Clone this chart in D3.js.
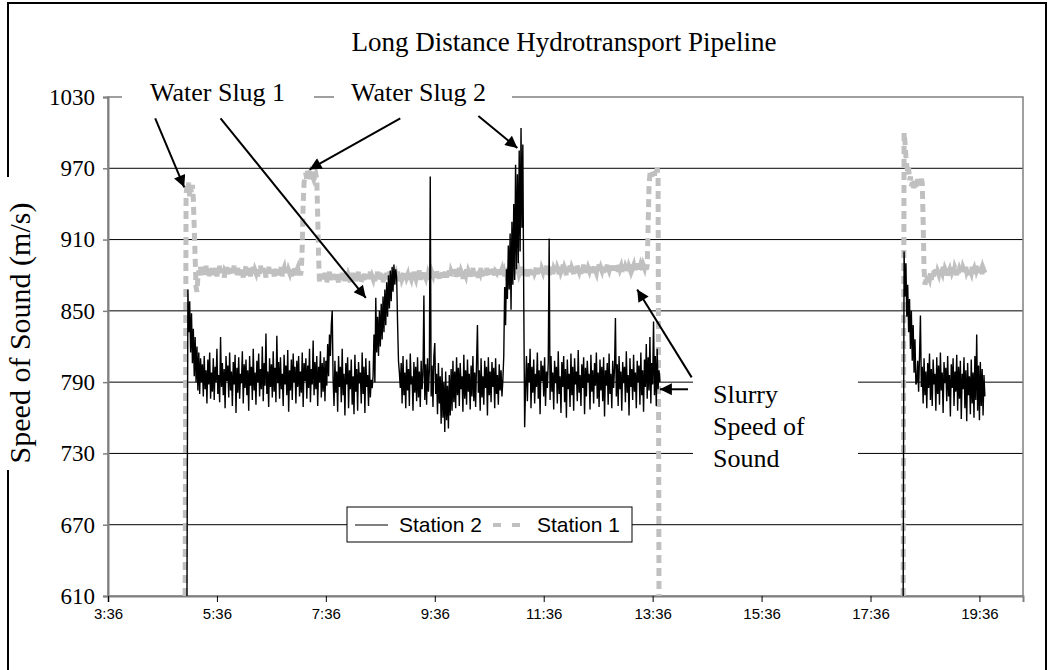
<!DOCTYPE html>
<html><head><meta charset="utf-8">
<script src="https://cdn.jsdelivr.net/npm/d3@7"></script>
<style>body{margin:0;background:#fff}svg{display:block}</style>
</head><body>
<svg id="chart" width="1049" height="670"></svg>
<script>
// ---------- data ----------
const chartTitle = "Long Distance Hydrotransport Pipeline";
const yAxisTitle = "Speed of Sound (m/s)";
const yTickValues = [610, 670, 730, 790, 850, 910, 970, 1030];
const xTickLabels = ["3:36", "5:36", "7:36", "9:36", "11:36", "13:36", "15:36", "17:36", "19:36"];
const xDomainLabels = ["3:36", "20:24"];
const seriesNames = ["Station 2", "Station 1"];

// Station 2 (black) sampled every minute
const station2Step = 1;
const station2StartA = "5:03";
const station2A = [
610, 868, 832, 858, 815, 848, 806, 835, 795, 828, 790, 820, 783, 815, 780, 810,
790, 805, 778, 812, 784, 800, 772, 809, 788, 815, 776, 798, 782, 810, 775, 803, 790, 818, 780, 796,
773, 828, 786, 806, 779, 801, 768, 812, 791, 804, 777, 815, 783, 799, 770, 807, 788, 813, 764, 802,
781, 811, 776, 797, 789, 816, 772, 805, 785, 809, 779, 800, 766, 812, 787, 803, 775, 818, 783, 798,
771, 808, 790, 814, 778, 801, 784, 820, 774, 806, 787, 831, 780, 799, 769, 810, 786, 805, 777, 816,
782, 802, 773, 829, 789, 807, 776, 811, 784, 797, 770, 813, 788, 804, 779, 817, 765, 800, 783, 809,
775, 814, 790, 803, 772, 808, 786, 812, 778, 799, 781, 815, 769, 806, 791, 810, 776, 804, 785, 818,
773, 801, 788, 825, 779, 807, 784, 812, 770, 803, 790, 816, 777, 806, 782, 811, 774, 808, 787, 822, 795, 830,
812, 838, 850,
792, 770, 808, 781, 799, 765, 812, 786, 803, 773, 818, 779, 797, 762, 806, 788, 811, 768, 800, 784,
809, 771, 795, 763, 813, 782, 801, 766, 807, 789, 798, 772, 815, 780, 803, 764, 810, 786, 796, 770, 808, 777, 792, 785,
795, 830, 790, 861, 815, 845, 812, 850, 820, 856, 826, 862, 832, 868, 838, 874, 845, 880, 852, 884, 858, 887, 866, 889, 872,
885, 878, 840, 808, 798,
785, 806, 772, 812, 779, 798, 768, 809, 783, 801, 770, 814, 788, 795, 766, 807, 781, 803, 774, 811,
777, 799, 769, 808, 784, 796, 863, 775, 805, 771, 810, 782, 800, 963, 778, 804, 769, 812, 823, 780,
797, 763, 806, 772, 795, 755, 802, 760, 790, 748, 799, 758, 787, 751, 796, 762, 801, 766, 808, 773,
799, 768, 811, 779, 802, 770, 806, 784, 795, 765, 813, 776, 800, 771, 809, 782, 797, 767, 804, 778,
812, 774, 798, 769, 806, 838, 781, 800, 766, 810, 777, 795, 771, 808, 785, 803, 762, 811, 779, 799,
773, 807, 786, 802, 768, 810, 780, 796, 771, 805, 783, 800, 778,
792, 812, 870, 838, 885,
860, 905, 868, 915, 851, 925, 872, 940, 876, 973, 885, 965, 890, 985, 900, 1004, 920,
990, 860, 752,
785, 812, 774, 806, 790, 818, 768, 803, 781, 809, 772, 797, 786, 815, 776, 800, 763, 808, 791, 804,
778, 811, 770, 799, 785, 806, 911, 775, 812, 782, 798, 767, 808, 789, 803, 772, 816, 780, 795, 764,
807, 786, 812, 773, 801, 760, 809, 784, 797, 769, 814, 779, 803, 766, 810, 788, 799, 774, 817, 781,
796, 770, 805, 785, 811, 763, 802, 778, 808, 790, 797, 767, 813, 782, 800, 772, 806, 787, 815, 776,
798, 769, 809, 783, 803, 774, 811, 761, 800, 787, 806, 771, 814, 780, 797, 768, 808, 785, 802, 844,
778, 805, 770, 812, 784, 799, 766, 807, 789, 803, 773, 816, 781, 796, 762, 810, 786, 801, 775, 813,
782, 798, 768, 808, 790, 804, 771, 815, 779, 800, 765, 809, 786, 822, 776, 811, 783, 828, 772, 806,
788, 841, 779, 812, 770, 818, 784, 800, 790
];
const station2StartB = "18:12";
const station2B = [
610, 900, 862, 890, 845, 872, 832, 860, 818, 850, 808, 838, 798, 826, 788,
790, 808, 782, 812, 846, 786, 803, 772, 810, 779, 799, 768, 806, 785, 814, 775, 801, 770, 809, 788,
797, 766, 811, 780, 804, 771, 815, 783, 798, 764, 807, 789, 802, 774, 812, 778, 796, 761, 805, 785,
810, 770, 799, 782, 813, 766, 803, 776, 808, 759, 797, 784, 811, 768, 800, 757, 806, 779, 795, 763,
809, 772, 798, 760, 812, 775, 830, 766, 804, 758, 807, 770, 801, 762, 796, 778
];

// Station 1 (grey dashed) sampled every minute
const station1Step = 1;
const station1StartA = "5:01";
const station1A = [
610,
948, 955, 951, 958, 946, 953, 949, 956, 944,
920, 895, 870, 866, 878,
884, 880, 887, 881, 885, 879, 886, 882, 888, 880, 884, 878, 886, 883, 881, 887, 880, 885, 882, 886,
879, 884, 881, 888, 882, 885, 880, 886, 878, 884, 883, 887, 880, 885, 882, 879, 886, 881, 884, 888,
882, 885, 879, 886, 883, 880, 887, 881, 884, 878, 885, 882, 888, 880, 884, 881, 886, 879, 885, 883,
887, 880, 884, 882, 886, 879, 885, 881, 888, 883, 880, 886, 882, 884, 878, 885, 881, 887, 883, 880,
885, 882, 886, 879, 884, 881, 887, 883, 880, 885, 882, 888, 879, 884, 886, 881, 883, 887, 880, 884,
882, 886, 879, 885, 881, 887, 883, 880, 884, 886, 882, 885, 880, 884,
905, 940, 958,
962, 966, 960, 968, 963, 965, 961, 967, 964, 962, 966, 963, 965, 961,
930, 895, 874,
877, 881, 875, 880, 876, 882, 878, 874, 880, 877, 883, 876, 879, 875, 881, 878, 882, 876, 880, 877,
874, 881, 878, 876, 882, 877, 880, 875, 879, 883, 876, 880, 878, 874, 881, 877, 882, 876, 879, 875,
880, 877, 883, 876, 879, 874, 881, 878, 876, 882, 877, 880, 875, 881, 878, 883, 876, 879, 877, 881,
875, 880, 878, 883, 876, 879, 882, 877, 881, 874, 880, 878, 876, 882, 879, 877, 883, 875, 880, 878,
882, 876, 879, 881, 877, 883, 878, 875, 880, 882, 877, 879, 884, 876, 881, 878, 880, 875, 882, 879,
877, 881, 876, 883, 879, 877, 882, 878, 880, 884, 876, 881, 879, 877, 883, 880, 878, 882, 876, 881,
879, 883, 877, 882, 880, 884, 878, 881, 885, 879, 882, 877, 883, 880, 878, 884, 881, 879, 885, 878,
882, 880, 884, 878, 883, 881, 879, 885, 882, 878, 884, 880, 882, 886, 879, 883, 881, 877, 884, 882,
880, 885, 879, 883, 881, 878, 884, 882, 886, 880, 883, 879, 885, 881, 878, 884, 882, 886, 879, 883,
881, 884, 880, 886, 882, 879, 885, 883, 880, 884, 881, 887, 879, 883, 882, 885, 880, 884, 878, 883,
885, 881, 883, 879, 886, 882, 884, 880, 887, 881, 883, 885, 879, 884, 882, 886, 880, 883, 885, 881,
883, 887, 881, 884, 880, 886, 882, 885, 879, 884, 887, 881, 883, 886, 880, 885, 882, 884, 888, 881,
884, 882, 886, 880, 885, 883, 887, 881, 884, 888, 882, 885, 880, 886, 883, 887, 881, 885, 883, 888,
882, 886, 884, 881, 887, 883, 885, 889, 882, 886, 884, 880, 887, 883, 885, 888, 882, 886, 884, 881,
887, 884, 882, 888, 885, 883, 886, 881, 887, 884, 889, 882, 885, 887, 883, 886, 884, 888, 882, 885,
886, 883, 888, 884, 882, 887, 885, 889, 883, 886, 884, 888, 882, 887, 885, 883, 889, 886, 884, 887,
883, 888, 885, 882, 887, 884, 889, 886, 883, 888, 885, 887, 882, 886, 890, 884, 887, 885, 889, 883,
887, 885, 889, 884, 886, 888, 883, 887, 890, 885, 888, 884, 886, 889, 887, 883, 888, 886, 890, 885,
888,
920, 955,
965, 968, 963, 967, 969, 964, 968, 966, 970, 965,
610
];
const station1StartB = "18:12";
const station1B = [
610,
1000, 992, 980, 972, 966, 970, 960, 963, 955, 958, 952, 960, 954, 959, 955, 961, 956, 960, 957, 961, 958,
925, 885, 872,
876, 880, 874, 879, 877, 882, 876, 881, 878, 884, 880, 885, 879, 883, 881, 886, 880, 884, 882, 887,
881, 885, 883, 879, 886, 882, 884, 880, 887, 883, 885, 881, 886, 884, 880, 887, 882, 885, 883, 888,
881, 886, 884, 882, 887, 883, 885, 880, 886, 884, 882, 887, 883, 885, 881, 888, 884, 886, 882, 887,
883, 885, 881, 886, 884, 882
];

// annotation arrows: [from time (min after midnight), from value, to time, to value]
const annotationArrows = [
  [268, 1012, 300, 954],
  [340, 1012, 500, 861],
  [538, 1012, 438, 969],
  [624, 1014, 667, 987],
  [859, 794, 799, 868],
  [855, 784, 824, 784]
];
const annotationTexts = ["Water Slug 1", "Water Slug 2"];
const slurryText = ["Slurry", "Speed of", "Sound"];

// ---------- helpers ----------
const toMin = s => { const [h, m] = s.split(":").map(Number); return h * 60 + m; };
const build = (start, step, vals) => vals.map((v, i) => ({ t: toMin(start) + i * step, v }));

const svg = d3.select("#chart");
const W = 1049, H = 670;
const plot = { left: 108, right: 1023, top: 97, bottom: 596 };
const serif = "'Liberation Serif','Times New Roman',serif";
const sans = "'Liberation Sans',Arial,sans-serif";

const x = d3.scaleLinear().domain(xDomainLabels.map(toMin)).range([plot.left, plot.right]);
const y = d3.scaleLinear().domain([yTickValues[0], yTickValues[yTickValues.length - 1]]).range([plot.bottom, plot.top]);

svg.append("rect").attr("width", W).attr("height", H).attr("fill", "#fff");

// outer frame
svg.append("rect").attr("x", 8).attr("y", 3).attr("width", 1038).attr("height", 720)
  .attr("fill", "none").attr("stroke", "#000").attr("stroke-width", 2);

// title
svg.append("text").attr("x", 564).attr("y", 51).attr("text-anchor", "middle")
  .attr("font-family", serif).attr("font-size", 27).attr("fill", "#000").text(chartTitle);

// gridlines
svg.append("g").selectAll("line").data(yTickValues.slice(1, -1)).join("line")
  .attr("x1", plot.left).attr("x2", plot.right)
  .attr("y1", d => y(d)).attr("y2", d => y(d))
  .attr("stroke", "#000").attr("stroke-width", 1);

// plot border
svg.append("rect").attr("x", plot.left).attr("y", plot.top)
  .attr("width", plot.right - plot.left).attr("height", plot.bottom - plot.top)
  .attr("fill", "none").attr("stroke", "#808080").attr("stroke-width", 1.5);

// axes
const yAxis = svg.append("g").attr("transform", `translate(${plot.left},0)`)
  .call(d3.axisLeft(y).tickValues(yTickValues).tickSize(5).tickPadding(8).tickFormat(d3.format("d")));
yAxis.select(".domain").attr("stroke", "#808080").attr("stroke-width", 2);
yAxis.selectAll(".tick line").attr("stroke", "#808080").attr("stroke-width", 1.5);
yAxis.selectAll(".tick text").attr("font-family", serif).attr("font-size", 23).attr("fill", "#000");

const xAxis = svg.append("g").attr("transform", `translate(0,${plot.bottom})`)
  .call(d3.axisBottom(x).tickValues(xTickLabels.map(toMin)).tickSize(6).tickPadding(6)
    .tickFormat((d, i) => xTickLabels[i]));
xAxis.select(".domain").attr("stroke", "#808080").attr("stroke-width", 2);
xAxis.selectAll(".tick line").attr("stroke", "#000").attr("stroke-width", 1);
xAxis.selectAll(".tick text").attr("font-family", sans).attr("font-size", 15).attr("fill", "#000");

// clip
svg.append("clipPath").attr("id", "clip").append("rect")
  .attr("x", plot.left).attr("y", plot.top - 10).attr("width", plot.right - plot.left).attr("height", plot.bottom - plot.top + 10);

const line = d3.line().x(d => x(d.t)).y(d => y(d.v));
const gData = svg.append("g").attr("clip-path", "url(#clip)");

[build(station1StartA, station1Step, station1A), build(station1StartB, station1Step, station1B)].forEach(s => {
  gData.append("path").attr("d", line(s)).attr("fill", "none")
    .attr("stroke", "#c0c0c0").attr("stroke-width", 5).attr("stroke-dasharray", "8,5");
});
[build(station2StartA, station2Step, station2A), build(station2StartB, station2Step, station2B)].forEach(s => {
  gData.append("path").attr("d", line(s)).attr("fill", "none")
    .attr("stroke", "#000").attr("stroke-width", 1.4).attr("stroke-linejoin", "miter");
});

// y-axis title with white background (covers frame)
svg.append("rect").attr("x", 0).attr("y", 177).attr("width", 44).attr("height", 293).attr("fill", "#fff");
svg.append("text").attr("transform", "translate(30,333) rotate(-90)").attr("text-anchor", "middle")
  .attr("font-family", serif).attr("font-size", 30).attr("fill", "#000").text(yAxisTitle);

// annotation text boxes
svg.append("rect").attr("x", 122).attr("y", 80).attr("width", 192).attr("height", 32).attr("fill", "#fff");
svg.append("rect").attr("x", 334).attr("y", 80).attr("width", 178).attr("height", 32).attr("fill", "#fff");
svg.append("text").attr("x", 150).attr("y", 101).attr("font-family", serif).attr("font-size", 26).text(annotationTexts[0]);
svg.append("text").attr("x", 351).attr("y", 101).attr("font-family", serif).attr("font-size", 26).text(annotationTexts[1]);

svg.append("rect").attr("x", 693).attr("y", 372).attr("width", 165).attr("height", 108).attr("fill", "#fff");
svg.append("g").selectAll("text").data(slurryText).join("text")
  .attr("x", 713).attr("y", (d, i) => 403 + i * 32)
  .attr("font-family", serif).attr("font-size", 26).text(d => d);

// arrows
const defs = svg.append("defs");
defs.append("marker").attr("id", "arrow").attr("viewBox", "0 0 10 10")
  .attr("refX", 10).attr("refY", 5).attr("markerWidth", 7).attr("markerHeight", 6)
  .attr("markerUnits", "strokeWidth").attr("orient", "auto")
  .append("path").attr("d", "M0,0 L10,5 L0,10 Z").attr("fill", "#000");
svg.append("g").selectAll("line").data(annotationArrows).join("line")
  .attr("x1", d => x(d[0])).attr("y1", d => y(d[1]))
  .attr("x2", d => x(d[2])).attr("y2", d => y(d[3]))
  .attr("stroke", "#000").attr("stroke-width", 2).attr("marker-end", "url(#arrow)");

// legend
const lg = svg.append("g");
lg.append("rect").attr("x", 347).attr("y", 507).attr("width", 285).attr("height", 35)
  .attr("fill", "#fff").attr("stroke", "#000").attr("stroke-width", 1);
lg.append("line").attr("x1", 355).attr("x2", 388).attr("y1", 525).attr("y2", 525).attr("stroke", "#000").attr("stroke-width", 1);
lg.append("text").attr("x", 399).attr("y", 532).attr("font-family", sans).attr("font-size", 21).text(seriesNames[0]);
lg.append("line").attr("x1", 493).attr("x2", 521).attr("y1", 525).attr("y2", 525)
  .attr("stroke", "#c0c0c0").attr("stroke-width", 4).attr("stroke-dasharray", "8,11");
lg.append("text").attr("x", 537).attr("y", 532).attr("font-family", sans).attr("font-size", 21).text(seriesNames[1]);
</script>
</body></html>
